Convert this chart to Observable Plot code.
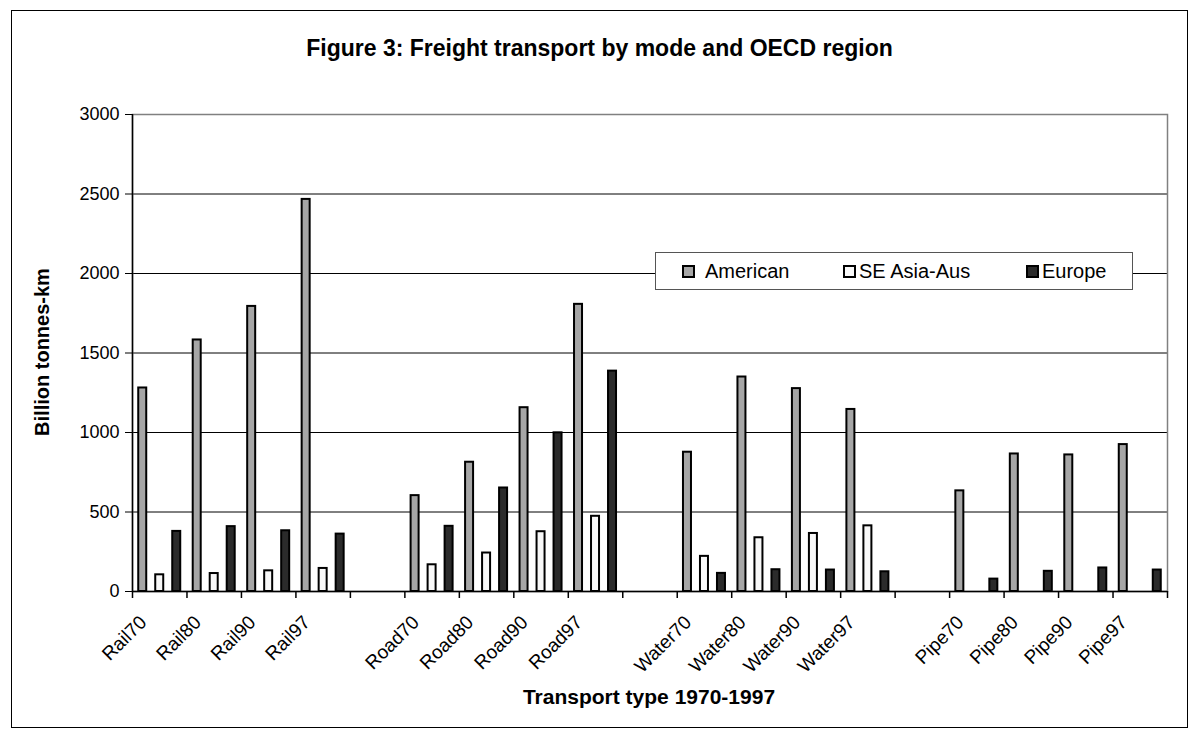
<!DOCTYPE html>
<html><head><meta charset="utf-8">
<script src="https://cdn.jsdelivr.net/npm/d3@7"></script>
<script src="https://cdn.jsdelivr.net/npm/@observablehq/plot@0.6"></script>
<style>
body{margin:0;background:#fff;font-family:"Liberation Sans",Arial,sans-serif;}
#wrap{position:relative;width:1190px;height:736px;overflow:hidden;background:#fff;}
#frame{position:absolute;left:11px;top:10px;width:1177px;height:718px;border:1px solid #000;box-sizing:border-box;}
#title{position:absolute;left:11px;width:1177px;top:35px;text-align:center;font-weight:bold;font-size:23px;color:#000;}
#chart{position:absolute;left:0;top:0;}
#legend{position:absolute;left:655px;top:252px;width:478px;height:38px;box-sizing:border-box;border:1px solid #555;background:#fff;font-size:20px;}
.item{position:absolute;top:0;height:36px;display:flex;align-items:center;}
.sw{width:9px;height:9px;border:2px solid #000;}
#ylab{position:absolute;left:42px;top:352px;transform:translate(-50%,-50%) rotate(-90deg);font-weight:bold;font-size:20px;white-space:nowrap;}
#xlab{position:absolute;left:649px;top:697px;transform:translate(-50%,-50%);font-weight:bold;font-size:21px;white-space:nowrap;}
</style></head>
<body>
<div id="wrap">
  <div id="frame"></div>
  <div id="chart"></div>
  <div id="title"></div>
  <div id="legend"></div>
  <div id="ylab"></div>
  <div id="xlab"></div>
</div>
<script>
const titleText = "Figure 3: Freight transport by mode and OECD region";
const yTitle = "Billion tonnes-km";
const xTitle = "Transport type 1970-1997";
const categories = ["Rail70","Rail80","Rail90","Rail97"," ","Road70","Road80","Road90","Road97","  ","Water70","Water80","Water90","Water97","   ","Pipe70","Pipe80","Pipe90","Pipe97"];
const series = ["American","SE Asia-Aus","Europe"];
const colors = ["#a6a6a6","#f8f8f8","#2b2b2b"];
const labeled = ["Rail70","Rail80","Rail90","Rail97","Road70","Road80","Road90","Road97","Water70","Water80","Water90","Water97","Pipe70","Pipe80","Pipe90","Pipe97"];
const american = [1280,1582,1793,2466, 603,813,1156,1806, 876,1349,1276,1145, 633,865,859,924];
const seAsiaAus = [105,113,130,145, 168,242,376,473, 221,338,365,413, null,null,null,null];
const europe = [378,408,382,361, 410,651,998,1386, 114,137,135,124, 78,127,148,135];
const yTicks = [0,500,1000,1500,2000,2500,3000];

document.getElementById("title").textContent = titleText;
document.getElementById("ylab").textContent = yTitle;
document.getElementById("xlab").textContent = xTitle;

const values = [american, seAsiaAus, europe];
const rows = [];
series.forEach((s, k) => labeled.forEach((c, i) => {
  if (values[k][i] != null) rows.push({cat: c, series: s, k, value: values[k][i]});
}));

const W = 1190, H = 736, ml = 132, mr = 23, mt = 114, mb = 145;
const bw = (W - ml - mr) / categories.length;
const step = 17, barW = 8;
const inset = (bw - barW) / 2;

const marks = [
  Plot.ruleY(yTicks, {stroke: "#000", strokeWidth: 1}),
  Plot.frame({stroke: "#808080", strokeWidth: 1.5}),
  ...series.map((s, k) => Plot.barY(rows.filter(d => d.k === k), {
    x: "cat", y: "value", fill: colors[k], stroke: "#000", strokeWidth: 2,
    insetLeft: inset, insetRight: inset, dx: (k - 1) * step
  })),
  Plot.ruleY([0], {stroke: "#000", strokeWidth: 1.5}),
  Plot.ruleX([categories[0]], {y1: 0, y2: 3000, dx: -bw / 2, stroke: "#000", strokeWidth: 1.5}),
  Plot.ruleX(categories, {y1: 0, y2: 0, dx: -bw / 2, insetBottom: -7, stroke: "#000", strokeWidth: 1.5}),
  Plot.ruleX([categories[categories.length - 1]], {y1: 0, y2: 0, dx: bw / 2, insetBottom: -7, stroke: "#000", strokeWidth: 1.5}),
  Plot.axisY({ticks: yTicks, tickSize: 7, tickPadding: 6, fontSize: 18, label: null, tickFormat: d => String(d)}),
  Plot.text(labeled, {x: d => d, text: d => d, frameAnchor: "bottom", rotate: -45, textAnchor: "end", dx: -12, dy: 32, fontSize: 19, fill: "#000"})
];

const chart = Plot.plot({
  width: W, height: H,
  marginLeft: ml, marginRight: mr, marginTop: mt, marginBottom: mb,
  style: {fontFamily: "'Liberation Sans', Arial, sans-serif", color: "#000", background: "transparent", overflow: "visible"},
  x: {domain: categories, padding: 0, round: false, axis: null},
  y: {domain: [0, 3000], axis: null},
  marks
});
document.getElementById("chart").appendChild(chart);

const leg = document.getElementById("legend");
const offs = [26, 187, 370];
const gaps = [10, 3, 3];
series.forEach((s, k) => {
  const it = document.createElement("div");
  it.className = "item";
  it.style.left = offs[k] + "px";
  const sw = document.createElement("div");
  sw.className = "sw";
  sw.style.background = colors[k];
  sw.style.marginRight = gaps[k] + "px";
  const tx = document.createElement("span");
  tx.textContent = s;
  it.appendChild(sw); it.appendChild(tx);
  leg.appendChild(it);
});
</script>
</body></html>
